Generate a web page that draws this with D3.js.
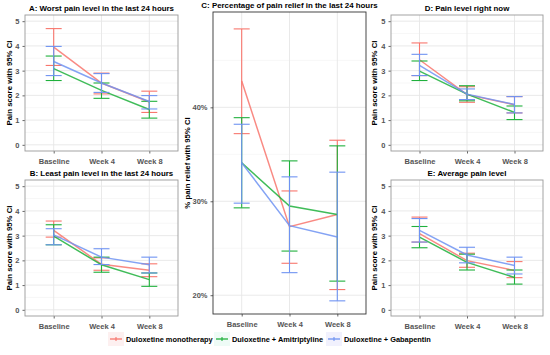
<!DOCTYPE html>
<html>
<head>
<meta charset="utf-8">
<script src="https://cdn.jsdelivr.net/npm/d3@7"></script>
<style>
  body { margin: 0; background: #fff; }
  text { font-family: "Liberation Sans", Arial, sans-serif; }
</style>
</head>
<body>
<svg id="chart" width="550" height="355"></svg>
<script>
// categories and groups
var visits = ["Baseline", "Week 4", "Week 8"];
var groups = ["Duloxetine monotherapy", "Duloxetine + Amitriptyline", "Duloxetine + Gabapentin"];
var colors = ["#F8766D", "#1FB03C", "#6F93F2"];

// each array: one row per group (mono, amitriptyline, gabapentin), one value per visit
var worstMean = [[3.95, 2.50, 1.73], [3.08, 2.20, 1.43], [3.37, 2.50, 1.75]];
var worstLow  = [[3.21, 2.06, 1.31], [2.60, 1.88, 1.08], [2.80, 2.12, 1.45]];
var worstHigh = [[4.70, 2.90, 2.17], [3.59, 2.50, 1.76], [3.98, 2.88, 1.99]];

var leastMean = [[3.21, 1.84, 1.60], [2.98, 1.82, 1.22], [3.03, 2.13, 1.82]];
var leastLow  = [[2.94, 1.60, 1.34], [2.63, 1.52, 0.95], [2.63, 1.83, 1.49]];
var leastHigh = [[3.59, 2.10, 1.86], [3.44, 2.13, 1.49], [3.28, 2.47, 2.13]];

var reliefMean = [[42.8, 27.3, 28.6], [34.1, 29.5, 28.6], [34.1, 27.4, 26.2]];
var reliefLow  = [[37.2, 23.4, 20.6], [29.3, 24.7, 21.5], [29.8, 22.4, 19.4]];
var reliefHigh = [[48.35, 31.1, 36.5], [38.9, 34.3, 35.9], [38.2, 32.6, 33.1]];

var nowMean = [[3.44, 2.03, 1.62], [2.98, 2.05, 1.31], [3.21, 2.05, 1.63]];
var nowLow  = [[2.80, 1.72, 1.29], [2.60, 1.78, 1.02], [2.80, 1.83, 1.29]];
var nowHigh = [[4.12, 2.35, 1.95], [3.39, 2.39, 1.57], [3.66, 2.26, 1.95]];

var avgMean = [[3.08, 1.99, 1.59], [2.94, 1.92, 1.31], [3.21, 2.22, 1.79]];
var avgLow  = [[2.74, 1.72, 1.30], [2.51, 1.61, 1.04], [2.74, 1.90, 1.45]];
var avgHigh = [[3.75, 2.29, 1.95], [3.37, 2.25, 1.61], [3.69, 2.53, 2.13]];

var painTicks = [0, 1, 2, 3, 4, 5];
var reliefTicks = [20, 30, 40];

var svg = d3.select("#chart");

var panels = [
  { title: "A: Worst pain level in the last 24 hours", mean: worstMean, low: worstLow, high: worstHigh,
    box: [25, 15, 178, 151], domain: [-0.25, 5.25], ticks: painTicks, minor: [0.5, 1.5, 2.5, 3.5, 4.5],
    ylab: "Pain score with 95% CI", labX: 12, fmt: d => d, border: "#9a9a9a" },
  { title: "B: Least pain level in the last 24 hours", mean: leastMean, low: leastLow, high: leastHigh,
    box: [25, 180, 178, 316], domain: [-0.25, 5.25], ticks: painTicks, minor: [0.5, 1.5, 2.5, 3.5, 4.5],
    ylab: "Pain score with 95% CI", labX: 12, fmt: d => d, border: "#9a9a9a" },
  { title: "C: Percentage of pain relief in the last 24 hours", mean: reliefMean, low: reliefLow, high: reliefHigh,
    box: [213, 12, 366, 314], domain: [18.0, 50.15], ticks: reliefTicks, minor: [25, 35, 45],
    ylab: "% pain relief with 95% CI", labX: 190, fmt: d => d + "%", border: "#333" },
  { title: "D: Pain level right now", mean: nowMean, low: nowLow, high: nowHigh,
    box: [391, 15, 543, 151], domain: [-0.25, 5.25], ticks: painTicks, minor: [0.5, 1.5, 2.5, 3.5, 4.5],
    ylab: "Pain score with 95% CI", labX: 377, fmt: d => d, border: "#9a9a9a" },
  { title: "E: Average pain level", mean: avgMean, low: avgLow, high: avgHigh,
    box: [391, 180, 543, 316], domain: [-0.25, 5.25], ticks: painTicks, minor: [0.5, 1.5, 2.5, 3.5, 4.5],
    ylab: "Pain score with 95% CI", labX: 377, fmt: d => d, border: "#9a9a9a" }
];

panels.forEach(drawPanel);
drawLegend();

function drawPanel(p) {
  var x0 = p.box[0], y0 = p.box[1], x1 = p.box[2], y1 = p.box[3];
  var x = d3.scalePoint().domain(visits).range([x0, x1]).padding(0.6);
  var y = d3.scaleLinear().domain(p.domain).range([y1, y0]);
  var g = svg.append("g");

  // grid
  g.selectAll(".minor").data(p.minor).enter().append("line")
    .attr("x1", x0).attr("x2", x1).attr("y1", d => y(d)).attr("y2", d => y(d))
    .attr("stroke", "#f2f2f2").attr("stroke-width", 0.6);
  g.selectAll(".major").data(p.ticks).enter().append("line")
    .attr("x1", x0).attr("x2", x1).attr("y1", d => y(d)).attr("y2", d => y(d))
    .attr("stroke", "#e6e6e6").attr("stroke-width", 0.9);
  g.selectAll(".vgrid").data(visits).enter().append("line")
    .attr("x1", d => x(d)).attr("x2", d => x(d)).attr("y1", y0).attr("y2", y1)
    .attr("stroke", "#e6e6e6").attr("stroke-width", 0.9);

  // axes
  var yAxis = g.append("g").attr("transform", `translate(${x0},0)`)
    .call(d3.axisLeft(y).tickValues(p.ticks).tickSize(2.5).tickFormat(p.fmt));
  var xAxis = g.append("g").attr("transform", `translate(0,${y1})`)
    .call(d3.axisBottom(x).tickSize(2.5));
  [yAxis, xAxis].forEach(function(a) {
    a.select(".domain").remove();
    a.selectAll(".tick line").attr("stroke", "#666");
    a.selectAll("text").attr("fill", "#555").attr("font-size", 7.5).attr("font-weight", "bold")
      .attr("font-family", "Liberation Sans, Arial, sans-serif");
  });
  xAxis.selectAll("text").attr("dy", "0.95em");

  // series
  var line = d3.line().x((d, i) => x(visits[i])).y(d => y(d));
  var capW = 8;
  p.mean.forEach(function(m, gi) {
    var col = colors[gi];
    var eb = g.append("g");
    visits.forEach(function(v, i) {
      var cx = x(v);
      eb.append("line").attr("x1", cx).attr("x2", cx)
        .attr("y1", y(p.low[gi][i])).attr("y2", y(p.high[gi][i]))
        .attr("stroke", col).attr("stroke-width", 1.1);
      [p.low[gi][i], p.high[gi][i]].forEach(function(val) {
        eb.append("line").attr("x1", cx - capW).attr("x2", cx + capW)
          .attr("y1", y(val)).attr("y2", y(val))
          .attr("stroke", col).attr("stroke-width", 1.1);
      });
    });
    g.append("path").datum(m).attr("d", line)
      .attr("fill", "none").attr("stroke", col).attr("stroke-width", 1.5)
      .attr("stroke-opacity", 0.85);
  });

  // frame
  g.append("rect").attr("x", x0).attr("y", y0).attr("width", x1 - x0).attr("height", y1 - y0)
    .attr("fill", "none").attr("stroke", p.border).attr("stroke-width", 0.9);

  // title
  svg.append("text").attr("x", (x0 + x1) / 2).attr("y", y0 - 4.5)
    .attr("text-anchor", "middle").attr("font-size", 7.9).attr("font-weight", "bold")
    .text(p.title);

  // y label
  svg.append("text")
    .attr("transform", `translate(${p.labX},${(y0 + y1) / 2}) rotate(-90)`)
    .attr("text-anchor", "middle").attr("font-size", 7.8).attr("font-weight", "bold")
    .text(p.ylab);
}

function drawLegend() {
  var keyX = [108, 214, 326];
  var legend = svg.append("g").attr("transform", "translate(0,339)");
  var tints = ["#fdf0f0", "#eefbf6", "#f1f1fd"];
  groups.forEach(function(name, i) {
    var k = legend.append("g").attr("transform", `translate(${keyX[i]},0)`);
    k.append("rect").attr("x", 0).attr("y", -7).attr("width", 16).attr("height", 14).attr("fill", tints[i]);
    k.append("line").attr("x1", 2).attr("x2", 14).attr("y1", 0).attr("y2", 0)
      .attr("stroke", colors[i]).attr("stroke-width", 1.3);
    k.append("line").attr("x1", 8).attr("x2", 8).attr("y1", -2).attr("y2", 2)
      .attr("stroke", colors[i]).attr("stroke-width", 1.1);
    k.append("text").attr("x", 18).attr("y", 2.7).attr("font-size", 7.4).attr("font-weight", "bold")
      .text(name);
  });
}
</script>
</body>
</html>
